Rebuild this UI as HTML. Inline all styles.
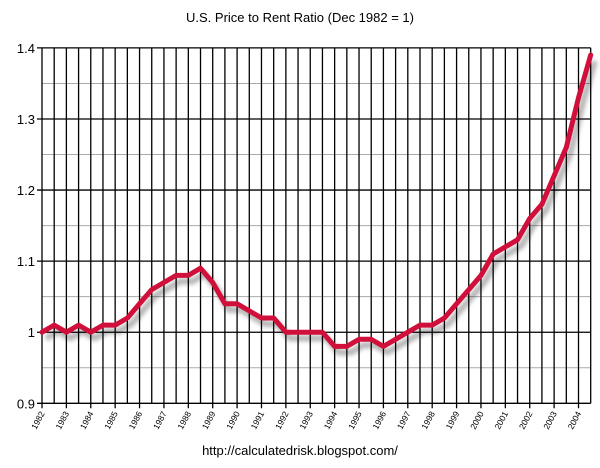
<!DOCTYPE html>
<html><head><meta charset="utf-8"><style>
body{margin:0;background:#fff;width:600px;height:463px;overflow:hidden}
svg{font-family:"Liberation Sans",Arial,sans-serif}
</style></head><body>
<svg id="c" width="600" height="463">
<defs><filter id="blur" x="-5%" y="-5%" width="110%" height="110%"><feGaussianBlur stdDeviation="2"/></filter></defs>
<text x="300" y="22" text-anchor="middle" font-size="13">U.S. Price to Rent Ratio (Dec 1982 = 1)</text>
<text x="300" y="455" text-anchor="middle" font-size="13">http://calculatedrisk.blogspot.com/</text>
<g id="grid"></g><g id="series"></g><g id="axes"></g>
</svg>
<script>
const yearLabels=["1982","1983","1984","1985","1986","1987","1988","1989","1990","1991","1992","1993","1994","1995","1996","1997","1998","1999","2000","2001","2002","2003","2004"];
const yTicks=[0.9,1,1.1,1.2,1.3,1.4];
const yTickLabels=["0.9","1","1.1","1.2","1.3","1.4"];
const times=[1982,1982.5,1983,1983.5,1984,1984.5,1985,1985.5,1986,1986.5,1987,1987.5,1988,1988.5,1989,1989.5,1990,1990.5,1991,1991.5,1992,1992.5,1993,1993.5,1994,1994.5,1995,1995.5,1996,1996.5,1997,1997.5,1998,1998.5,1999,1999.5,2000,2000.5,2001,2001.5,2002,2002.5,2003,2003.5,2004,2004.5];
const ratio=[1.00,1.01,1.00,1.01,1.00,1.01,1.01,1.02,1.04,1.06,1.07,1.08,1.08,1.09,1.07,1.04,1.04,1.03,1.02,1.02,1.00,1.00,1.00,1.00,0.98,0.98,0.99,0.99,0.98,0.99,1.00,1.01,1.01,1.02,1.04,1.06,1.08,1.11,1.12,1.13,1.16,1.18,1.22,1.26,1.33,1.39];
const X0=42,X1=590.7,Y0=403.3,Y1=47.9;
const xs=t=>X0+(t-1982)/(2004.5-1982)*(X1-X0);
const ys=v=>Y0-(v-0.9)/(0.5)*(Y0-Y1);
const NS="http://www.w3.org/2000/svg";
function mk(p,tag,a){const e=document.createElementNS(NS,tag);for(const k in a)e.setAttribute(k,a[k]);p.appendChild(e);return e;}
const grid=document.getElementById('grid'),axes=document.getElementById('axes'),ser=document.getElementById('series');
for(let v=0.95;v<1.4;v+=0.1){const l=mk(grid,'line',{x1:X0,x2:X1,y1:ys(v),y2:ys(v),stroke:'#aaa','stroke-width':1});

}
yTicks.forEach((v,i)=>{const l=mk(grid,'line',{x1:X0-5,x2:X1,y1:ys(v),y2:ys(v),stroke:'#000','stroke-width':1.3});


const t=mk(axes,'text',{x:X0-7,y:ys(v)+5,'text-anchor':'end','font-size':13});t.textContent=yTickLabels[i];

});
for(let t=1982;t<=2004.5;t+=0.5){const l=mk(grid,'line',{x1:xs(t),x2:xs(t),y1:Y1,y2:Y0+(t%1===0?5:0),stroke:'#000','stroke-width':1.3});

}
yearLabels.forEach((y,i)=>{const x=xs(1982+i),yy=Y0+10;const t=mk(axes,'text',{x:x+3,y:yy,'text-anchor':'end','font-size':8.5,transform:`rotate(-62 ${x+3} ${yy})`});t.textContent=y;

});
const d=times.map((t,i)=>(i?'L':'M')+xs(t).toFixed(1)+','+ys(ratio[i]).toFixed(1)).join('');
const sh=mk(ser,'path',{d:d,fill:'none',stroke:'rgba(0,0,0,0.3)','stroke-width':6,transform:'translate(4,6)','stroke-linejoin':'round',filter:'url(#blur)'});


const p=mk(ser,'path',{d:d,fill:'none',stroke:'#d0103a','stroke-width':5,'stroke-linejoin':'round','stroke-linecap':'round'});


</script>
</body></html>
